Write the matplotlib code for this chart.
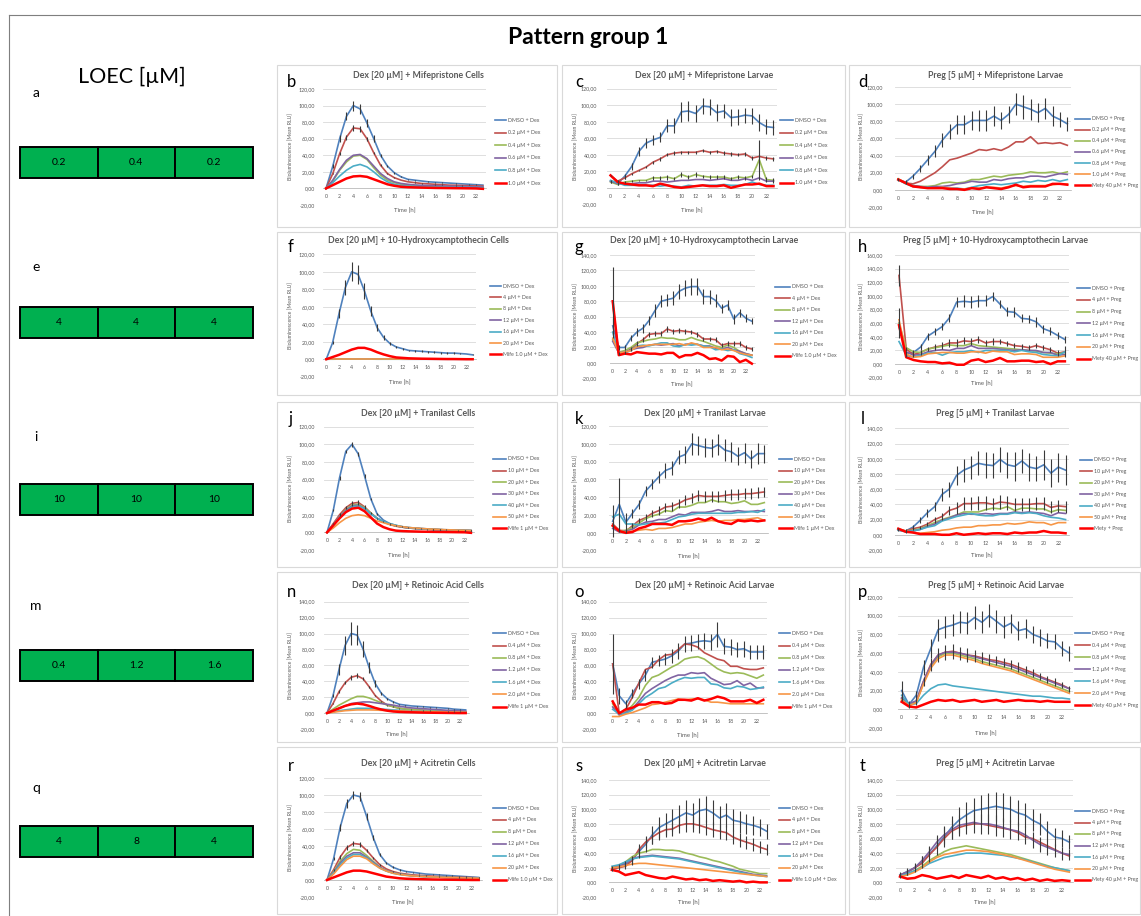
import matplotlib
matplotlib.use("Agg")
import matplotlib.pyplot as plt
from matplotlib.lines import Line2D
from matplotlib.patches import Rectangle
from matplotlib.ticker import FuncFormatter

plt.rcParams["font.family"] = ["Lato", "DejaVu Sans"]

W, H = 1141, 916
hours = list(range(24))

# ---------------- LOEC values per row [µM]
loec_a = ["0.2", "0.4", "0.2"]
loec_e = ["4", "4", "4"]
loec_i = ["10", "10", "10"]
loec_m = ["0.4", "1.2", "1.6"]
loec_q = ["4", "8", "4"]

# ---------------- b: Dex + Mifepristone, cells
b_labels = ["DMSO + Dex", "0.2 µM + Dex", "0.4 µM + Dex", "0.6 µM + Dex", "0.8 µM + Dex", "1.0 µM + Dex"]
b_dmso = [0, 27, 60, 87, 100, 96, 79, 60, 40, 27, 19, 14, 11, 10, 9, 8, 7.5, 7, 6.5, 6, 5.5, 5, 4.5, 4]
b_dmso_err = [0, 2, 4, 5, 6, 6, 5, 4, 2, 1.5, 1, 0.8, 0.6, 0.5, 0.5, 0.5, 0.4, 0.4, 0.4, 0.4, 0.3, 0.3, 0.3, 0.3]
b_02 = [0, 18, 42, 62, 73, 72, 60, 43, 28, 18, 13, 10, 8, 7, 6, 5.5, 5, 4.5, 4, 3.8, 3.5, 3.2, 3, 2.8]
b_02_err = [0, 1, 2, 3, 3.5, 3.5, 2.5, 1.5, 1, 0.5, 0.4, 0.3, 0.3, 0.3, 0.3, 0.3, 0.3, 0.3, 0.3, 0.3, 0.3, 0.3, 0.3, 0.3]
b_04 = [0, 9, 22, 32, 39, 40, 35, 25, 16, 10, 7, 5, 4, 3.5, 3, 2.5, 2.2, 2, 1.8, 1.6, 1.5, 1.4, 1.3, 1.2]
b_06 = [0, 10, 23, 34, 40, 41, 36, 27, 18, 12, 8, 6, 5, 4.2, 3.8, 3.5, 3.2, 3, 2.8, 2.6, 2.4, 2.2, 2, 2]
b_08 = [0, 7, 15, 22, 27, 29, 26, 20, 13, 8, 5, 3.5, 2.8, 2.3, 2, 1.8, 1.6, 1.5, 1.4, 1.3, 1.2, 1.1, 1, 1]
b_10 = [0, 4, 8, 12, 14.5, 15, 14, 11, 8, 5, 3.2, 2, 1.5, 1.2, 1, 0.8, 0.6, 0.5, 0.4, 0.3, 0.2, 0.1, 0, -0.5]

# ---------------- c: Dex + Mifepristone, larvae
c_labels = b_labels
c_dmso = [8, 5, 14, 26, 44, 54, 58, 61, 75, 75, 92, 93, 90, 99, 98, 91, 93, 85, 86, 88, 87, 79, 74, 73]
c_dmso_err = [2, 2, 3, 4, 5, 6, 6, 6, 8, 9, 12, 12, 10, 10, 10, 10, 9, 10, 10, 9, 10, 10, 9, 9]
c_02 = [15, 8, 12, 17, 21, 25, 31, 35, 40, 42, 43, 43, 43, 45, 43, 44, 42, 41, 40, 41, 36, 38, 36, 35]
c_02_err = [1, 1, 1, 1, 1, 1, 2, 2, 2, 2, 2, 2, 2, 2, 2, 2, 2, 2, 2, 2, 2, 2, 2, 2]
c_04 = [7, 4, 7, 8, 9, 9, 12, 12, 13, 11, 16, 13, 16, 14, 13, 13, 13, 11, 13, 12, 14, 34, 10, 9]
c_04_err = [1, 1, 1, 1, 1, 1, 2, 2, 3, 2, 3, 2, 3, 2, 2, 2, 2, 2, 2, 2, 2, 24, 3, 3]
c_06 = [8, 5, 5, 5, 6, 6, 8, 8, 7, 8, 9, 9, 10, 10, 9, 10, 11, 9, 9, 11, 9, 12, 8, 8]
c_08 = [9, 6, 3, 3, 3, 3, 3, 2, 3, 2, 1, 3, 2, 3, 3, 3, 4, 3, 3, 4, 7, 4, 3, 3]
c_10 = [15, 7, 5, 4, 3, 3, 2, 5, 3, 1, 0, 1, 2, 3, 2, 2, 3, 0, 2, 4, 4, 5, 2, 2]

# ---------------- d: Preg + Mifepristone, larvae
d_labels = ["DMSO + Preg", "0.2 µM + Preg", "0.4 µM + Preg", "0.6 µM + Preg", "0.8 µM + Preg",
            "1.0 µM + Preg", "Mety 40 µM + Preg"]
d_dmso = [12, 9, 16, 25, 35, 45, 58, 68, 76, 76, 81, 81, 81, 86, 81, 88, 100, 97, 94, 90, 95, 86, 82, 77]
d_dmso_err = [2, 2, 3, 4, 6, 7, 8, 9, 11, 11, 11, 12, 12, 12, 10, 10, 13, 14, 12, 11, 12, 12, 9, 8]
d_02 = [12, 8, 7, 10, 15, 20, 27, 35, 37, 40, 43, 47, 46, 48, 46, 50, 56, 56, 62, 54, 55, 54, 55, 52]
d_04 = [12, 8, 5, 4, 4, 5, 8, 9, 8, 9, 12, 12, 14, 16, 15, 17, 18, 19, 21, 20, 20, 21, 19, 21]
d_06 = [12, 8, 5, 4, 3, 4, 4, 5, 7, 8, 10, 9, 9, 12, 11, 13, 14, 14, 16, 16, 15, 17, 19, 18]
d_08 = [12, 7, 4, 3, 3, 2, 2, 2, 2, 1, 3, 5, 6, 7, 6, 7, 8, 10, 9, 11, 10, 12, 10, 12]
d_10 = [13, 8, 4, 3, 2, 2, 3, 2, 1, 1, 2, 2, 3, 3, 2, 4, 5, 4, 5, 5, 5, 6, 7, 7]
d_mety = [12, 8, 4, 3, 2, 2, 2, 1, 1, 0, 2, 1, 3, 2, 1, 3, 6, 3, 4, 4, 4, 7, 7, 6]

# ---------------- f: Dex + 10-Hydroxycamptothecin, cells
f_labels = ["DMSO + Dex", "4 µM + Dex", "8 µM + Dex", "12 µM + Dex", "16 µM + Dex", "20 µM + Dex",
            "Mife 1.0 µM + Dex"]
f_dmso = [0, 19, 52, 82, 100, 97, 78, 55, 36, 25, 18, 14, 12, 10, 9.5, 9, 8.5, 8, 7.5, 7, 7, 6.5, 6, 5]
f_dmso_err = [0, 2, 5, 9, 11, 11, 9, 6, 4, 2.5, 1.5, 1, 1, 1, 1, 1, 1, 1, 1, 1, 1, 1, 0.5, 0.5]
f_4 = [0, 0.2, 0.3, 0.3, 0.3, 0.3, 0.3, 0.2, 0.2, 0.2, 0.1, 0.1, 0.1, 0.1, 0.1, 0.1, 0.1, 0.1, 0.1, 0.1, 0.1, 0.1, 0.1, 0.1]
f_8 = [0, 0.1, 0.2, 0.2, 0.2, 0.2, 0.2, 0.2, 0.1, 0.1, 0.1, 0.1, 0.1, 0.1, 0.1, 0.1, 0.1, 0.1, 0.1, 0.1, 0.1, 0.1, 0.1, 0.1]
f_12 = [0, 0.1, 0.1, 0.1, 0.1, 0.1, 0.1, 0.1, 0.1, 0.1, 0.1, 0.1, 0, 0, 0, 0, 0, 0, 0, 0, 0, 0, 0, 0]
f_16 = [0, 0, 0.1, 0.1, 0.1, 0.1, 0.1, 0.1, 0, 0, 0, 0, 0, 0, 0, 0, 0, 0, 0, 0, 0, 0, 0, 0]
f_20 = [0, 0, 0, 0, 0, 0, 0, 0, 0, 0, 0, 0, 0, 0, 0, 0, 0, 0, 0, 0, 0, 0, 0, 0]
f_mife = [0, 2.5, 5, 8, 11, 13, 13, 11, 8, 5.5, 3.5, 2, 1.5, 1, 0.8, 0.6, 0.5, 0.4, 0.3, 0.2, 0.2, 0.1, 0, 0]

# ---------------- g: Dex + 10-Hydroxycamptothecin, larvae
g_labels = f_labels
g_dmso = [48, 20, 20, 32, 40, 45, 55, 68, 80, 82, 84, 93, 97, 99, 99, 86, 86, 81, 71, 75, 57, 65, 58, 54]
g_dmso_err = [10, 3, 3, 4, 5, 6, 6, 8, 8, 8, 9, 10, 10, 11, 11, 10, 9, 8, 6, 7, 6, 5, 5, 4]
g_4 = [78, 12, 13, 18, 25, 30, 37, 38, 38, 44, 41, 42, 41, 40, 37, 31, 31, 30, 23, 25, 25, 25, 20, 18]
g_4_err = [46, 2, 2, 2, 3, 3, 3, 3, 3, 4, 3, 3, 3, 3, 3, 3, 3, 3, 3, 3, 3, 3, 3, 3]
g_8 = [30, 14, 16, 20, 26, 28, 30, 31, 33, 32, 32, 30, 30, 33, 30, 28, 25, 22, 20, 23, 20, 15, 12, 10]
g_12 = [28, 13, 14, 17, 19, 20, 23, 24, 23, 24, 25, 22, 24, 25, 24, 22, 22, 19, 18, 20, 17, 15, 12, 10]
g_16 = [40, 12, 13, 16, 22, 23, 22, 24, 26, 26, 22, 21, 24, 23, 24, 22, 21, 17, 18, 16, 17, 12, 10, 7]
g_20 = [32, 13, 14, 16, 21, 22, 23, 24, 24, 24, 24, 25, 23, 26, 24, 20, 20, 20, 17, 18, 16, 13, 11, 10]
g_mife = [80, 10, 12, 11, 14, 13, 12, 12, 11, 13, 13, 7, 10, 10, 13, 10, 5, 6, 3, 9, 8, 1, 4, -1]

# ---------------- h: Preg + 10-Hydroxycamptothecin, larvae
h_labels = ["DMSO + Preg", "4 µM + Preg", "8 µM + Preg", "12 µM + Preg", "16 µM + Preg", "20 µM + Preg",
            "Mety 40 µM + Preg"]
h_dmso = [60, 15, 17, 25, 41, 48, 55, 68, 91, 92, 91, 93, 93, 99, 88, 77, 76, 67, 66, 62, 52, 48, 42, 36]
h_dmso_err = [22, 4, 4, 4, 5, 5, 5, 6, 8, 9, 9, 9, 8, 6, 6, 6, 7, 6, 6, 7, 6, 6, 5, 5]
h_4 = [130, 22, 14, 17, 22, 25, 27, 31, 31, 34, 33, 36, 31, 33, 33, 30, 27, 26, 24, 27, 24, 21, 16, 18]
h_4_err = [16, 3, 3, 3, 3, 4, 5, 6, 6, 5, 5, 5, 5, 5, 4, 4, 4, 4, 4, 4, 4, 4, 4, 8]
h_8 = [60, 24, 18, 17, 22, 24, 26, 28, 27, 27, 30, 27, 26, 25, 24, 23, 22, 21, 20, 19, 17, 16, 15, 17]
h_12 = [55, 18, 13, 14, 18, 20, 21, 20, 23, 23, 27, 23, 23, 23, 22, 21, 20, 21, 20, 20, 17, 17, 13, 14]
h_16 = [33, 13, 10, 13, 16, 17, 13, 17, 18, 18, 20, 17, 20, 20, 20, 20, 18, 20, 18, 17, 14, 13, 12, 18]
h_20 = [65, 15, 10, 11, 15, 16, 17, 17, 16, 16, 18, 18, 16, 19, 18, 18, 14, 15, 15, 14, 10, 10, 10, 12]
h_mety = [57, 10, 6, 4, 3, 3, 1, 2, -1, -1, 5, 7, 3, 5, 9, 4, 4, 5, 5, 3, 4, 0, 4, 4]

# ---------------- j: Dex + Tranilast, cells
j_labels = ["DMSO + Dex", "10 µM + Dex", "20 µM + Dex", "30 µM + Dex", "40 µM + Dex", "50 µM + Dex",
            "Mife 1 µM + Dex"]
j_dmso = [0, 25, 62, 92, 100, 89, 64, 38, 21, 14, 10, 8, 6.5, 5.5, 5, 4.5, 4, 3.5, 3.2, 3, 2.8, 2.5, 2.3, 2]
j_dmso_err = [0, 1, 2, 2, 3, 2, 2, 1, 1, 0.5, 0.5, 0.5, 0.3, 0.3, 0.3, 0.3, 0.3, 0.3, 0.3, 0.3, 0.3, 0.3, 0.3, 0.3]
j_10 = [0, 10, 20, 28, 33, 34, 29, 22, 16, 12, 9, 7, 6, 5, 4.5, 4, 3.5, 3.2, 3, 2.8, 2.5, 2.3, 2.1, 2]
j_10_err = [0, 1, 1.5, 2, 3, 3, 2, 1, 0.5, 0.5, 0.3, 0.3, 0.3, 0.3, 0.3, 0.3, 0.3, 0.3, 0.3, 0.3, 0.3, 0.3, 0.3, 0.3]
j_20 = [0, 9, 18, 26, 31, 32, 28, 22, 16, 12, 9.5, 7.5, 6, 5, 4.5, 4, 3.6, 3.3, 3, 2.8, 2.6, 2.4, 2.2, 2]
j_30 = [0, 9, 18, 25, 30, 31, 27, 21, 16, 12, 9.5, 7.5, 6, 5, 4.5, 4, 3.6, 3.3, 3, 2.8, 2.6, 2.4, 2.2, 2]
j_40 = [0, 8, 17, 24, 29, 30, 27, 21, 16, 12.5, 10, 8, 6.5, 5.5, 4.8, 4.2, 3.8, 3.4, 3.1, 2.8, 2.6, 2.4, 2.2, 2]
j_50 = [0, 5, 11, 16, 19, 20, 19, 16, 13, 11, 9, 7.5, 6.5, 5.5, 5, 4.5, 4, 3.6, 3.3, 3, 2.8, 2.5, 2.3, 2]
j_mife = [0, 8, 16, 23, 27, 28, 24, 17, 10, 6, 3.5, 2, 1.5, 1.2, 1, 0.8, 0.7, 0.6, 0.5, 0.4, 0.3, 0.2, 0.1, -0.5]

# ---------------- k: Dex + Tranilast, larvae
k_labels = j_labels
k_dmso = [13, 32, 12, 22, 32, 47, 55, 63, 70, 73, 85, 88, 100, 98, 96, 95, 99, 93, 91, 86, 90, 83, 89, 89]
k_dmso_err = [18, 30, 10, 5, 5, 6, 6, 7, 8, 8, 8, 9, 12, 11, 11, 10, 12, 12, 11, 10, 11, 10, 12, 10]
k_10 = [10, 3, 2, 8, 14, 17, 22, 25, 29, 30, 33, 37, 39, 42, 41, 41, 41, 42, 43, 43, 44, 44, 45, 46]
k_10_err = [3, 2, 2, 3, 3, 4, 4, 5, 5, 5, 5, 6, 6, 6, 6, 6, 6, 6, 6, 6, 6, 6, 6, 6]
k_20 = [8, 2, 3, 6, 11, 16, 19, 21, 25, 24, 29, 29, 31, 34, 34, 37, 35, 35, 33, 34, 36, 32, 32, 34]
k_30 = [5, 1, 2, 4, 9, 12, 13, 15, 15, 18, 21, 20, 23, 23, 23, 24, 26, 24, 24, 25, 24, 24, 25, 24]
k_40 = [18, 21, 10, 10, 9, 10, 11, 11, 12, 15, 18, 19, 21, 22, 22, 22, 22, 22, 22, 23, 23, 24, 23, 26]
k_50 = [8, 2, 1, 2, 3, 4, 3, 5, 5, 6, 8, 10, 10, 12, 13, 14, 13, 14, 14, 15, 15, 16, 17, 14]
k_mife = [8, 2, 0, 1, 5, 7, 10, 10, 10, 9, 13, 13, 14, 16, 14, 17, 13, 11, 10, 14, 13, 14, 13, 14]

# ---------------- l: Preg + Tranilast, larvae
l_labels = ["DMSO + Preg", "10 µM + Preg", "20 µM + Preg", "30 µM + Preg", "40 µM + Preg", "50 µM + Preg",
            "Mety + Preg"]
l_dmso = [7, 5, 10, 19, 29, 37, 53, 60, 78, 85, 89, 94, 92, 91, 99, 92, 90, 97, 89, 87, 92, 81, 89, 85]
l_dmso_err = [2, 2, 3, 4, 5, 6, 8, 10, 12, 15, 15, 16, 17, 16, 17, 17, 19, 16, 18, 16, 20, 18, 19, 20]
l_10 = [7, 5, 8, 10, 14, 20, 24, 32, 35, 41, 41, 42, 42, 40, 43, 42, 40, 40, 40, 41, 41, 36, 38, 37]
l_10_err = [1, 1, 2, 2, 3, 4, 5, 6, 8, 9, 9, 9, 9, 8, 9, 9, 9, 9, 9, 9, 9, 8, 8, 8]
l_20 = [7, 5, 6, 8, 12, 16, 20, 23, 26, 30, 30, 30, 33, 35, 34, 37, 32, 35, 35, 34, 34, 30, 33, 32]
l_30 = [6, 5, 5, 7, 11, 14, 19, 22, 26, 28, 27, 27, 28, 27, 28, 28, 30, 29, 30, 29, 28, 25, 29, 28]
l_40 = [6, 4, 5, 7, 10, 12, 18, 21, 24, 26, 28, 26, 25, 25, 27, 27, 29, 28, 29, 28, 25, 23, 22, 20]
l_50 = [8, 5, 3, 2, 3, 4, 6, 7, 9, 10, 10, 12, 12, 13, 13, 15, 14, 15, 17, 16, 16, 13, 16, 16]
l_mety = [8, 4, 3, 1, 1, 1, 0, 0, 2, 0, 1, 2, 1, 2, 2, 1, 3, 2, 3, 3, 5, 3, 3, 2]

# ---------------- n: Dex + Retinoic Acid, cells
n_labels = ["DMSO + Dex", "0.4 µM + Dex", "0.8 µM + Dex", "1.2 µM + Dex", "1.6 µM + Dex", "2.0 µM + Dex",
            "Mife 1 µM + Dex"]
n_dmso = [0, 22, 55, 85, 100, 98, 80, 57, 37, 25, 18, 14, 11, 10, 9, 8.5, 8, 7.5, 7, 6.5, 6, 5, 4.5, 4]
n_dmso_err = [0, 2, 7, 12, 14, 13, 10, 7, 4, 2, 1, 1, 1, 0.5, 0.5, 0.5, 0.5, 0.5, 0.5, 0.5, 0.5, 0.5, 0.5, 0.5]
n_04 = [0, 12, 27, 38, 45, 47, 43, 33, 22, 15, 10, 8, 6, 5, 4.5, 4, 3.5, 3, 2.8, 2.5, 2.2, 2, 1.8, 1.5]
n_04_err = [0, 1, 2, 2, 3, 3, 2, 1, 1, 0.5, 0.5, 0.5, 0.3, 0.3, 0.3, 0.3, 0.3, 0.3, 0.3, 0.3, 0.3, 0.3, 0.3, 0.3]
n_08 = [0, 5, 10, 14, 18, 21, 21, 19, 16, 13, 10, 8, 6, 5, 4.5, 4, 3.5, 3, 2.8, 2.5, 2.2, 2, 1.8, 1.5]
n_12 = [0, 3, 6, 9, 12, 13, 14, 14, 13, 12, 11, 10, 8.5, 7.5, 6.5, 6, 5.5, 5, 4.5, 4, 3.5, 3, 2.8, 2.5]
n_16 = [0, 1.5, 3, 4, 5, 6, 6, 6, 5.5, 5, 4.5, 4, 3.5, 3, 2.8, 2.5, 2.2, 2, 1.8, 1.6, 1.4, 1.2, 1, 1]
n_20 = [0, 1, 2, 3, 3.5, 4, 4, 4, 3.8, 3.5, 3.2, 3, 2.8, 2.5, 2.3, 2.1, 2, 1.8, 1.6, 1.5, 1.4, 1.3, 1.2, 1]
n_mife = [0, 3, 6, 9, 11, 12, 11, 9, 6.5, 4.5, 3, 2, 1.5, 1.2, 1, 0.8, 0.6, 0.5, 0.4, 0.3, 0.2, 0.1, 0, 0]

# ---------------- o: Dex + Retinoic Acid, larvae
o_labels = n_labels
o_dmso = [62, 22, 12, 25, 37, 48, 64, 66, 68, 72, 78, 87, 88, 90, 91, 90, 99, 84, 83, 80, 81, 77, 77, 77]
o_dmso_err = [38, 10, 5, 6, 6, 7, 7, 7, 8, 9, 10, 10, 10, 9, 10, 10, 16, 10, 10, 9, 10, 9, 9, 9]
o_04 = [62, 0, 5, 20, 38, 55, 58, 67, 73, 74, 80, 87, 86, 83, 76, 72, 68, 66, 59, 59, 56, 55, 55, 57]
o_08 = [12, -2, 2, 10, 20, 35, 45, 48, 53, 58, 62, 68, 70, 71, 68, 62, 56, 52, 50, 51, 50, 47, 44, 48]
o_12 = [8, -2, 1, 6, 15, 25, 31, 36, 41, 45, 48, 48, 51, 50, 51, 44, 40, 36, 37, 41, 35, 38, 32, 32]
o_16 = [5, -1, 0, 4, 12, 20, 25, 31, 33, 38, 42, 45, 44, 45, 45, 37, 36, 32, 31, 34, 33, 30, 31, 33]
o_20 = [-4, -4, -1, 1, 4, 7, 11, 12, 14, 16, 18, 17, 18, 18, 17, 14, 14, 13, 12, 12, 12, 12, 12, 12]
o_mife = [15, 0, 5, 7, 11, 11, 14, 14, 12, 13, 17, 17, 16, 19, 16, 18, 21, 19, 15, 15, 15, 17, 13, 17]

# ---------------- p: Preg + Retinoic Acid, larvae
p_labels = ["DMSO + Preg", "0.4 µM + Preg", "0.8 µM + Preg", "1.2 µM + Preg", "1.6 µM + Preg",
            "2.0 µM + Preg", "Mety 40 µM + Preg"]
p_dmso = [20, 5, 15, 45, 65, 85, 88, 90, 93, 92, 98, 93, 100, 94, 88, 92, 84, 86, 80, 77, 73, 72, 65, 60]
p_dmso_err = [10, 4, 5, 8, 10, 12, 12, 12, 12, 12, 12, 12, 12, 12, 12, 10, 10, 10, 9, 9, 8, 8, 8, 8]
p_04 = [12, 5, 8, 30, 48, 58, 61, 62, 60, 58, 57, 55, 53, 52, 50, 48, 45, 42, 39, 35, 32, 29, 26, 22]
p_04_err = [3, 2, 3, 5, 7, 8, 8, 8, 7, 7, 6, 6, 6, 5, 5, 5, 5, 4, 4, 4, 4, 4, 3, 3]
p_08 = [10, 4, 7, 28, 46, 56, 60, 60, 58, 56, 54, 51, 49, 47, 45, 43, 40, 37, 34, 31, 28, 25, 22, 19]
p_12 = [12, 6, 9, 30, 47, 58, 61, 61, 60, 58, 56, 54, 52, 50, 48, 46, 43, 40, 37, 34, 31, 28, 25, 22]
p_16 = [15, 5, 6, 15, 22, 26, 27, 25, 24, 23, 22, 21, 20, 19, 18, 17, 16, 15, 14, 14, 13, 12, 12, 11]
p_20 = [10, 4, 7, 27, 44, 54, 58, 58, 56, 54, 52, 49, 47, 45, 43, 41, 38, 35, 32, 29, 26, 23, 20, 17]
p_mety = [8, 3, 2, 5, 8, 10, 9, 10, 8, 9, 10, 8, 9, 10, 8, 9, 10, 9, 9, 8, 9, 8, 8, 8]

# ---------------- r: Dex + Acitretin, cells
r_labels = ["DMSO + Dex", "4 µM + Dex", "8 µM + Dex", "12 µM + Dex", "16 µM + Dex", "20 µM + Dex",
            "Mife 1.0 µM + Dex"]
r_dmso = [0, 25, 62, 90, 100, 98, 75, 50, 30, 20, 15, 12, 10, 9, 8, 7, 6.5, 6, 5.5, 5, 4.5, 4, 3.5, 3]
r_dmso_err = [0, 2, 4, 5, 5, 5, 4, 3, 2, 1, 1, 1, 0.5, 0.5, 0.5, 0.5, 0.5, 0.5, 0.5, 0.5, 0.5, 0.5, 0.5, 0.5]
r_4 = [0, 12, 27, 38, 43, 42, 35, 26, 18, 13, 10, 8, 7, 6, 5.5, 5, 4.5, 4, 3.8, 3.5, 3.2, 3, 2.8, 2.5]
r_4_err = [0, 1, 2, 3, 3, 3, 2, 1, 1, 0.5, 0.5, 0.5, 0.3, 0.3, 0.3, 0.3, 0.3, 0.3, 0.3, 0.3, 0.3, 0.3, 0.3, 0.3]
r_8 = [0, 10, 22, 31, 36, 35, 29, 22, 15, 11, 8.5, 7, 6, 5, 4.5, 4, 3.7, 3.4, 3.1, 2.9, 2.7, 2.5, 2.3, 2]
r_12 = [0, 9, 20, 28, 32, 32, 27, 21, 15, 11, 8.5, 7, 6, 5, 4.5, 4, 3.7, 3.4, 3.1, 2.9, 2.7, 2.5, 2.3, 2]
r_16 = [0, 8, 18, 26, 30, 30, 26, 20, 14, 10.5, 8, 6.5, 5.5, 4.8, 4.3, 3.9, 3.6, 3.3, 3, 2.8, 2.6, 2.4, 2.2, 2]
r_20 = [0, 7, 16, 24, 28, 28, 25, 19, 14, 10.5, 8, 6.5, 5.5, 4.8, 4.3, 3.9, 3.6, 3.3, 3, 2.8, 2.6, 2.4, 2.2, 2]
r_mife = [0, 3, 6, 9, 11, 11, 10, 8, 6, 4, 3, 2, 1.5, 1.2, 1, 0.8, 0.6, 0.5, 0.4, 0.3, 0.2, 0.1, 0, 0]

# ---------------- s: Dex + Acitretin, larvae
s_labels = r_labels
s_dmso = [20, 22, 25, 30, 42, 52, 65, 75, 80, 85, 90, 95, 92, 98, 100, 95, 88, 92, 85, 83, 80, 78, 75, 70]
s_dmso_err = [3, 3, 4, 6, 8, 10, 12, 14, 15, 15, 16, 17, 17, 18, 18, 17, 16, 16, 15, 15, 14, 13, 12, 10]
s_4 = [18, 20, 22, 30, 45, 55, 62, 68, 72, 73, 78, 80, 80, 78, 75, 72, 70, 68, 62, 58, 55, 52, 48, 45]
s_4_err = [3, 3, 4, 5, 7, 8, 9, 10, 10, 10, 11, 11, 11, 11, 10, 10, 10, 10, 9, 9, 9, 9, 8, 8]
s_8 = [20, 22, 28, 35, 40, 42, 45, 45, 44, 44, 43, 40, 38, 35, 33, 30, 28, 25, 22, 18, 16, 14, 12, 12]
s_12 = [20, 22, 27, 32, 35, 36, 37, 36, 35, 34, 33, 31, 29, 27, 25, 23, 21, 19, 17, 15, 13, 11, 10, 9]
s_16 = [22, 24, 28, 32, 34, 35, 36, 35, 34, 33, 32, 30, 28, 26, 24, 22, 20, 18, 16, 14, 12, 10, 9, 8]
s_20 = [20, 21, 23, 25, 26, 26, 25, 24, 23, 22, 21, 20, 19, 18, 17, 16, 15, 14, 13, 12, 11, 10, 9, 8]
s_mife = [17, 15, 10, 12, 14, 10, 8, 6, 5, 8, 6, 4, 5, 3, 4, 2, 3, 2, 1, 2, 0, 1, 0, 0]

# ---------------- t: Preg + Acitretin, larvae
t_labels = ["DMSO + Preg", "4 µM + Preg", "8 µM + Preg", "12 µM + Preg", "16 µM + Preg", "20 µM + Preg",
            "Mety 40 µM + Preg"]
t_dmso = [10, 15, 20, 28, 38, 50, 62, 75, 85, 92, 98, 100, 102, 104, 102, 100, 95, 92, 85, 80, 70, 62, 60, 55]
t_dmso_err = [4, 5, 6, 8, 10, 12, 14, 16, 18, 18, 18, 20, 20, 20, 20, 18, 18, 16, 15, 15, 14, 12, 12, 10]
t_4 = [10, 14, 20, 26, 38, 48, 60, 70, 75, 78, 80, 80, 78, 76, 74, 72, 68, 62, 60, 55, 50, 45, 40, 36]
t_8 = [10, 12, 16, 22, 30, 36, 42, 46, 48, 50, 48, 46, 44, 42, 40, 38, 35, 32, 29, 26, 23, 20, 18, 16]
t_12 = [10, 14, 20, 30, 42, 55, 65, 72, 78, 80, 82, 80, 80, 78, 75, 72, 70, 65, 58, 52, 48, 44, 40, 38]
t_12_err = [3, 4, 5, 6, 8, 10, 12, 13, 14, 14, 14, 14, 14, 14, 13, 13, 12, 12, 11, 10, 10, 9, 9, 8]
t_16 = [8, 12, 16, 20, 26, 30, 34, 36, 38, 40, 40, 40, 39, 38, 37, 35, 33, 31, 28, 25, 22, 20, 18, 16]
t_20 = [8, 10, 14, 20, 28, 34, 38, 40, 42, 44, 44, 43, 42, 40, 38, 36, 33, 30, 27, 24, 21, 18, 16, 14]
t_mety = [8, 5, 6, 10, 8, 5, 7, 9, 6, 10, 8, 6, 9, 5, 7, 4, 6, 3, 5, 2, 4, 2, 3, 2]

# ---------------- styling
BLUE, DRED, GREEN, PURPLE = "#4F81BD", "#C0504D", "#9BBB59", "#8064A2"
CYAN, ORANGE, RED = "#4BACC6", "#F79646", "#FF0000"
PAL6 = [BLUE, DRED, GREEN, PURPLE, CYAN, RED]
PAL7 = [BLUE, DRED, GREEN, PURPLE, CYAN, ORANGE, RED]
TXT = "#595959"
GRID = "#D9D9D9"
ERR = "#3A3A3A"
LW, LW_RED = 1.2, 1.8

fig = plt.figure(figsize=(W / 100, H / 100), dpi=100)


def fx(px):
    return px / W


def fy(py):
    return 1 - py / H


# outer frame
fig.add_artist(Line2D([fx(9), fx(1141)], [fy(15), fy(15)], transform=fig.transFigure, color="#7F7F7F", lw=0.8))
fig.add_artist(Line2D([fx(9), fx(9)], [fy(15), fy(916)], transform=fig.transFigure, color="#7F7F7F", lw=0.8))

fig.text(fx(588), fy(38), "Pattern group 1", ha="center", va="center", fontsize=16.5, fontweight="bold")
fig.text(fx(132), fy(77), "LOEC [µM]", ha="center", va="center", fontsize=15.5)

# LOEC tables on the left
loec_rows = [("a", 93, 147, loec_a), ("e", 267, 307, loec_e), ("i", 437, 484, loec_i),
             ("m", 606, 650, loec_m), ("q", 788, 826, loec_q)]
cell_edges = [20, 97.5, 175, 253]
for letter, ly, ty, vals in loec_rows:
    fig.text(fx(36), fy(ly), letter, ha="center", va="center", fontsize=10)
    for k in range(3):
        x0, x1 = cell_edges[k], cell_edges[k + 1]
        fig.add_artist(Rectangle((fx(x0), fy(ty + 31)), fx(x1 - x0), 31 / H, transform=fig.transFigure,
                                 facecolor="#00B050", edgecolor="black", lw=1.4))
        fig.text(fx((x0 + x1) / 2), fy(ty + 15.5), vals[k], ha="center", va="center", fontsize=7.5)

# panel grid geometry (pixels)
col_box = [(277, 557), (562, 845), (849, 1140)]
row_box = [(65, 227), (232, 395), (402, 567), (572, 742), (747, 914)]
row_title_y = [75, 241, 413, 586, 763]
col_letter_x = [291, 579, 863]
row_letter_y = [82, 247, 419, 592, 766]
col_ylabel_x = [291, 576, 862]
col_tick_edge = [315, 597, 883]

panels = [
    dict(letter="b", row=0, col=0, title="Dex [20 µM] + Mifepristone Cells", ytop=120,
         rect=(322.6, 89, 486.3, 205), leg=(495, 506, 508, 120, 12.6), labels=b_labels, colors=PAL6,
         series=[b_dmso, b_02, b_04, b_06, b_08, b_10], errs={0: b_dmso_err, 1: b_02_err}),
    dict(letter="c", row=0, col=1, title="Dex [20 µM] + Mifepristone Larvae", ytop=120,
         rect=(607, 88.7, 777, 204.3), leg=(780, 793, 795, 120.3, 12.5), labels=c_labels, colors=PAL6,
         series=[c_dmso, c_02, c_04, c_06, c_08, c_10], errs={0: c_dmso_err, 1: c_02_err, 2: c_04_err}),
    dict(letter="d", row=0, col=2, title="Preg [5 µM] + Mifepristone Larvae", ytop=120,
         rect=(894.6, 87, 1071, 207), leg=(1075, 1090, 1092, 118.7, 11.1), labels=d_labels, colors=PAL7,
         series=[d_dmso, d_02, d_04, d_06, d_08, d_10, d_mety], errs={0: d_dmso_err}),
    dict(letter="f", row=1, col=0, title="Dex [20 µM] + 10-Hydroxycamptothecin Cells", ytop=120,
         rect=(323.1, 254.3, 475.8, 376.7), leg=(490, 501, 503, 286, 11.4), labels=f_labels, colors=PAL7,
         series=[f_dmso, f_4, f_8, f_12, f_16, f_20, f_mife], errs={0: f_dmso_err}),
    dict(letter="g", row=1, col=1, title="Dex [20 µM] + 10-Hydroxycamptothecin Larvae", ytop=140,
         rect=(609.7, 255, 754.9, 378.3), leg=(775, 790, 792, 286.7, 11.55), labels=g_labels, colors=PAL7,
         series=[g_dmso, g_4, g_8, g_12, g_16, g_20, g_mife], errs={0: g_dmso_err, 1: g_4_err}),
    dict(letter="h", row=1, col=2, title="Preg [5 µM] + 10-Hydroxycamptothecin Larvae", ytop=160,
         rect=(895.4, 255, 1068.5, 377.7), leg=(1077, 1090, 1092, 288.3, 11.7), labels=h_labels, colors=PAL7,
         series=[h_dmso, h_4, h_8, h_12, h_16, h_20, h_mety], errs={0: h_dmso_err, 1: h_4_err}),
    dict(letter="j", row=2, col=0, title="Dex [20 µM] + Tranilast Cells", ytop=120,
         rect=(323.9, 426.7, 474.1, 550), leg=(493, 506, 508, 459, 11.55), labels=j_labels, colors=PAL7,
         series=[j_dmso, j_10, j_20, j_30, j_40, j_50, j_mife], errs={0: j_dmso_err, 1: j_10_err}),
    dict(letter="k", row=2, col=1, title="Dex [20 µM] + Tranilast Larvae", ytop=120,
         rect=(609.4, 426, 767.6, 550.7), leg=(779, 792, 794, 459.3, 11.5), labels=k_labels, colors=PAL7,
         series=[k_dmso, k_10, k_20, k_30, k_40, k_50, k_mife], errs={0: k_dmso_err, 1: k_10_err}),
    dict(letter="l", row=2, col=2, title="Preg [5 µM] + Tranilast Larvae", ytop=140,
         rect=(894.7, 428.3, 1069.2, 550), leg=(1080, 1092, 1094, 460, 11.4), labels=l_labels, colors=PAL7,
         series=[l_dmso, l_10, l_20, l_30, l_40, l_50, l_mety], errs={0: l_dmso_err, 1: l_10_err}),
    dict(letter="n", row=3, col=0, title="Dex [20 µM] + Retinoic Acid Cells", ytop=140,
         rect=(324, 601.7, 468.7, 729), leg=(493, 506, 508, 633.3, 12.2), labels=n_labels, colors=PAL7,
         series=[n_dmso, n_04, n_08, n_12, n_16, n_20, n_mife], errs={0: n_dmso_err, 1: n_04_err}),
    dict(letter="o", row=3, col=1, title="Dex [20 µM] + Retinoic Acid Larvae", ytop=140,
         rect=(609.4, 601.7, 766.6, 729.3), leg=(779, 790, 792, 633.3, 12.2), labels=o_labels, colors=PAL7,
         series=[o_dmso, o_04, o_08, o_12, o_16, o_20, o_mife], errs={0: o_dmso_err}),
    dict(letter="p", row=3, col=2, title="Preg [5 µM] + Retinoic Acid Larvae", ytop=120,
         rect=(898, 597, 1073, 728), leg=(1075, 1090, 1092, 633, 12), labels=p_labels, colors=PAL7,
         series=[p_dmso, p_04, p_08, p_12, p_16, p_20, p_mety], errs={0: p_dmso_err, 1: p_04_err}),
    dict(letter="r", row=4, col=0, title="Dex [20 µM] + Acitretin Cells", ytop=120,
         rect=(323.7, 778, 482, 897), leg=(493, 506, 508, 808, 12), labels=r_labels, colors=PAL7,
         series=[r_dmso, r_4, r_8, r_12, r_16, r_20, r_mife], errs={0: r_dmso_err, 1: r_4_err}),
    dict(letter="s", row=4, col=1, title="Dex [20 µM] + Acitretin Larvae", ytop=140,
         rect=(608.6, 780, 770, 897), leg=(779, 790, 792, 808, 12), labels=s_labels, colors=PAL7,
         series=[s_dmso, s_4, s_8, s_12, s_16, s_20, s_mife], errs={0: s_dmso_err, 1: s_4_err}),
    dict(letter="t", row=4, col=2, title="Preg [5 µM] + Acitretin Larvae", ytop=140,
         rect=(896.3, 780, 1073, 897), leg=(1075, 1090, 1092, 811, 11.5), labels=t_labels, colors=PAL7,
         series=[t_dmso, t_4, t_8, t_12, t_16, t_20, t_mety], errs={0: t_dmso_err, 3: t_12_err}),
]

comma_fmt = FuncFormatter(lambda v, pos: f"{v:.2f}".replace(".", ","))

for p in panels:
    r, c = p["row"], p["col"]
    bx0, bx1 = col_box[c]
    by0, by1 = row_box[r]
    fig.add_artist(Rectangle((fx(bx0), fy(by1)), fx(bx1 - bx0), (by1 - by0) / H, transform=fig.transFigure,
                             fill=False, edgecolor=GRID, lw=0.8))
    fig.text(fx((bx0 + bx1) / 2 + 1), fy(row_title_y[r]), p["title"], ha="center", va="center",
             fontsize=6.3, fontweight="bold", color=TXT)
    fig.text(fx(col_letter_x[c]), fy(row_letter_y[r]), p["letter"], ha="center", va="center", fontsize=12)

    l, t, rr, b = p["rect"]
    ax = fig.add_axes([fx(l), fy(b), fx(rr - l), (b - t) / H])
    ax.set_xlim(-0.5, 23.5)
    ax.set_ylim(-20, p["ytop"])
    ax.set_yticks(range(-20, p["ytop"] + 1, 20))
    ax.set_xticks(range(0, 23, 2))
    ax.yaxis.set_major_formatter(comma_fmt)
    ax.grid(axis="y", color=GRID, lw=0.6)
    ax.set_axisbelow(True)
    for side in ("left", "right", "top"):
        ax.spines[side].set_visible(False)
    ax.spines["bottom"].set_position(("data", 0))
    ax.spines["bottom"].set_color("#BFBFBF")
    ax.spines["bottom"].set_linewidth(0.6)
    ax.tick_params(axis="both", length=0, labelsize=3.8, labelcolor=TXT)
    ax.tick_params(axis="y", pad=(l - col_tick_edge[c]) * 0.72)
    ax.tick_params(axis="x", pad=4.2)
    ax.set_facecolor("none")

    for i, (vals, col) in enumerate(zip(p["series"], p["colors"])):
        lw = LW_RED if col == RED else LW
        ax.plot(hours, vals, color=col, lw=lw, zorder=3 + i * 0.01, solid_joinstyle="round")
        if i in p["errs"]:
            ax.errorbar(hours, vals, yerr=p["errs"][i], fmt="none", ecolor=ERR, elinewidth=0.8,
                        capsize=0, zorder=4)

    fig.text(fx(col_ylabel_x[c]), fy((t + b) / 2), "Bioluminescence [Mean RLU]", rotation=90,
             ha="center", va="center", fontsize=3.7, color=TXT)
    fig.text(fx((l + rr) / 2), fy(b + 6), "Time [h]", ha="center", va="center", fontsize=4.3, color=TXT)

    sx0, sx1, tx, y0, dy = p["leg"]
    for i, (lab, col) in enumerate(zip(p["labels"], p["colors"])):
        yy = y0 + i * dy
        lw = LW_RED if col == RED else LW
        fig.add_artist(Line2D([fx(sx0), fx(sx1)], [fy(yy), fy(yy)], transform=fig.transFigure, color=col, lw=lw))
        fig.text(fx(tx), fy(yy), lab, ha="left", va="center", fontsize=3.8, color=TXT)

fig.savefig("out.png", dpi=100)
